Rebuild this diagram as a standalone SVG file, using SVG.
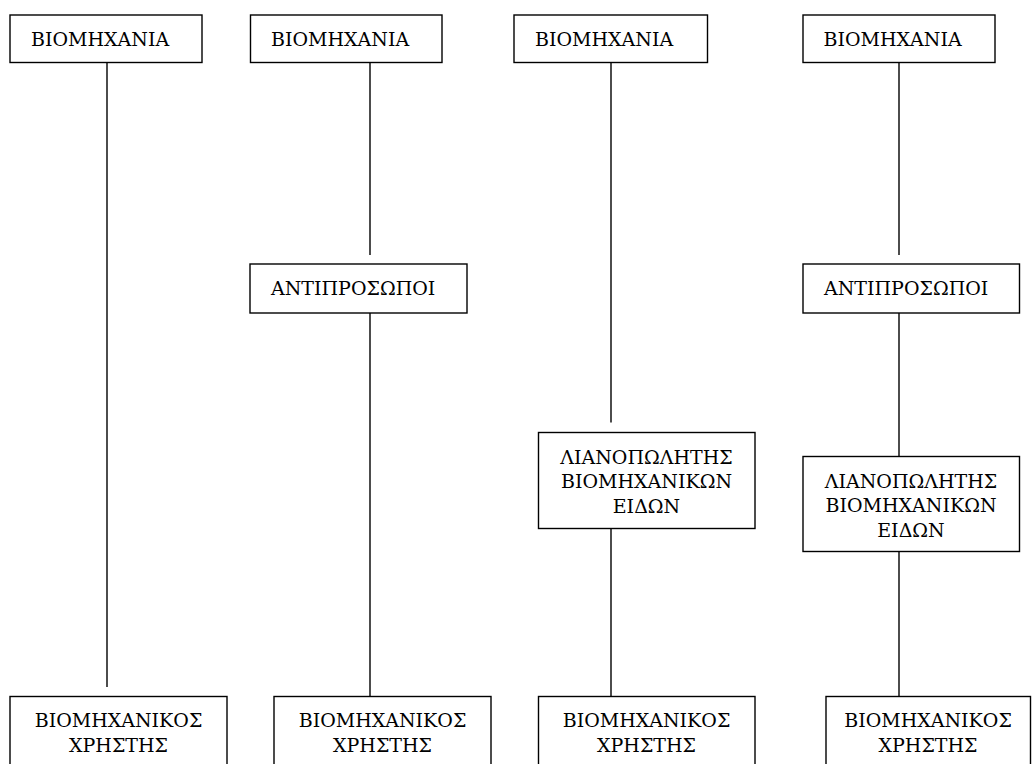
<svg xmlns="http://www.w3.org/2000/svg" width="1032" height="764" viewBox="0 0 1032 764">
  <style>
    .box { fill: #ffffff; stroke: #000000; stroke-width: 1.4; }
    .wire { stroke: #000000; stroke-width: 1.4; fill: none; }
    text { font-family: "DejaVu Serif", serif; font-size: 19px; fill: #000000; }
    .mid { text-anchor: middle; }
  </style>
  <rect width="1032" height="764" fill="#ffffff"/>

  <!-- vertical links of the four distribution channels -->
  <g id="connectors">
    <line class="wire" x1="107" y1="62.5" x2="107" y2="687"/>
    <line class="wire" x1="370" y1="62.5" x2="370" y2="255"/>
    <line class="wire" x1="370" y1="313" x2="370" y2="696.5"/>
    <line class="wire" x1="611" y1="62.5" x2="611" y2="422.5"/>
    <line class="wire" x1="611" y1="528.5" x2="611" y2="696.5"/>
    <line class="wire" x1="899" y1="62.5" x2="899" y2="255"/>
    <line class="wire" x1="899" y1="313" x2="899" y2="456.5"/>
    <line class="wire" x1="899" y1="551.5" x2="899" y2="696.5"/>
  </g>

  <!-- channel 1 -->
  <g id="industry-1">
    <rect class="box" x="10" y="15" width="192" height="47.5"/>
    <text x="31" y="46">ΒΙΟΜΗΧΑΝΙΑ</text>
  </g>
  <g id="user-1">
    <rect class="box" x="10" y="696.5" width="217" height="90"/>
    <text class="mid" x="118.5" y="727">ΒΙΟΜΗΧΑΝΙΚΟΣ</text>
    <text class="mid" x="118.5" y="752">ΧΡΗΣΤΗΣ</text>
  </g>

  <!-- channel 2 -->
  <g id="industry-2">
    <rect class="box" x="250.5" y="15" width="191.5" height="47.5"/>
    <text x="271" y="46">ΒΙΟΜΗΧΑΝΙΑ</text>
  </g>
  <g id="agents-2">
    <rect class="box" x="250" y="264" width="217" height="49"/>
    <text x="271" y="295">ΑΝΤΙΠΡΟΣΩΠΟΙ</text>
  </g>
  <g id="user-2">
    <rect class="box" x="274" y="696.5" width="217" height="90"/>
    <text class="mid" x="382.5" y="727">ΒΙΟΜΗΧΑΝΙΚΟΣ</text>
    <text class="mid" x="382.5" y="752">ΧΡΗΣΤΗΣ</text>
  </g>

  <!-- channel 3 -->
  <g id="industry-3">
    <rect class="box" x="514" y="15" width="193.5" height="47.5"/>
    <text x="535" y="46">ΒΙΟΜΗΧΑΝΙΑ</text>
  </g>
  <g id="retailer-3">
    <rect class="box" x="538.5" y="432.5" width="216.5" height="96"/>
    <text class="mid" x="646.5" y="463.5">ΛΙΑΝΟΠΩΛΗΤΗΣ</text>
    <text class="mid" x="646.5" y="488">ΒΙΟΜΗΧΑΝΙΚΩΝ</text>
    <text class="mid" x="646.5" y="512.5">ΕΙΔΩΝ</text>
  </g>
  <g id="user-3">
    <rect class="box" x="538.5" y="696.5" width="216.5" height="90"/>
    <text class="mid" x="646.5" y="727">ΒΙΟΜΗΧΑΝΙΚΟΣ</text>
    <text class="mid" x="646.5" y="752">ΧΡΗΣΤΗΣ</text>
  </g>

  <!-- channel 4 -->
  <g id="industry-4">
    <rect class="box" x="803" y="15" width="192" height="47.5"/>
    <text x="823.5" y="46">ΒΙΟΜΗΧΑΝΙΑ</text>
  </g>
  <g id="agents-4">
    <rect class="box" x="803" y="264" width="216.5" height="49"/>
    <text x="824" y="295">ΑΝΤΙΠΡΟΣΩΠΟΙ</text>
  </g>
  <g id="retailer-4">
    <rect class="box" x="803" y="456.5" width="216.5" height="95"/>
    <text class="mid" x="911" y="487.5">ΛΙΑΝΟΠΩΛΗΤΗΣ</text>
    <text class="mid" x="911" y="512">ΒΙΟΜΗΧΑΝΙΚΩΝ</text>
    <text class="mid" x="911" y="536.5">ΕΙΔΩΝ</text>
  </g>
  <g id="user-4">
    <rect class="box" x="826" y="696.5" width="204.5" height="90"/>
    <text class="mid" x="928" y="727">ΒΙΟΜΗΧΑΝΙΚΟΣ</text>
    <text class="mid" x="928" y="752">ΧΡΗΣΤΗΣ</text>
  </g>
</svg>
